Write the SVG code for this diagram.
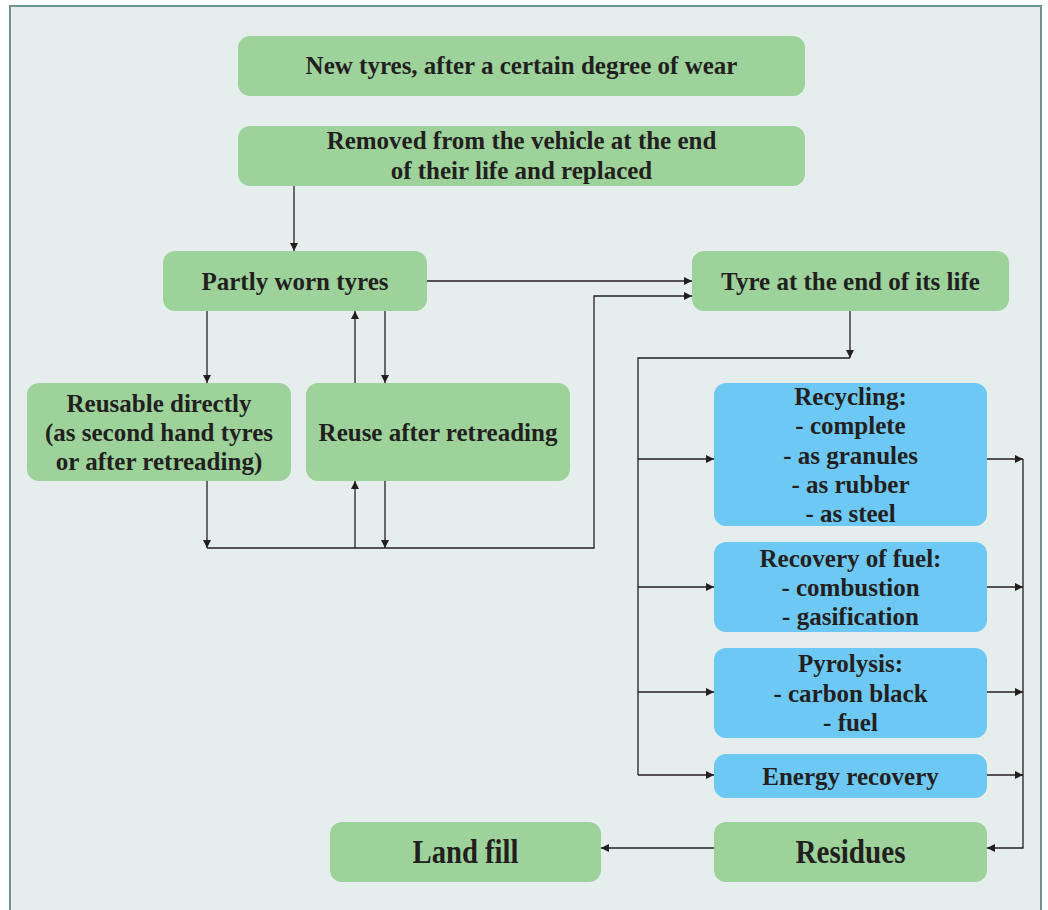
<svg xmlns="http://www.w3.org/2000/svg" width="1048" height="910" viewBox="0 0 1048 910">
<defs>
<style>
.g{fill:#9dd39b}
.b{fill:#6dc9f3}
.t{font-family:"Liberation Serif","DejaVu Serif",serif;font-weight:bold;font-size:25px;fill:#231f20;text-anchor:middle}
.big{font-size:33px}
.c{fill:none;stroke:#231f20;stroke-width:1.3}
</style>
<marker id="a" viewBox="0 0 10 10" refX="10" refY="5" markerWidth="8" markerHeight="8" markerUnits="userSpaceOnUse" orient="auto"><path d="M0,0 L10,5 L0,10 z" fill="#231f20"/></marker>
</defs>
<rect x="0" y="0" width="1048" height="910" fill="#ffffff"/>
<rect x="10" y="6" width="1031" height="910" fill="#e5eeed" stroke="#6e9090" stroke-width="2"/>

<g id="n1"><rect class="g" x="238" y="36" width="567" height="60" rx="12"/><text class="t" x="521.5" y="74">New tyres, after a certain degree of wear</text></g>
<g id="n2"><rect class="g" x="238" y="126" width="567" height="60" rx="12"/><text class="t" x="521.5" y="149">Removed from the vehicle at the end</text><text class="t" x="521.5" y="179">of their life and replaced</text></g>
<g id="n3"><rect class="g" x="163" y="251" width="264" height="60" rx="12"/><text class="t" x="295" y="290">Partly worn tyres</text></g>
<g id="n4"><rect class="g" x="692" y="251" width="317" height="60" rx="12"/><text class="t" x="850.5" y="290">Tyre at the end of its life</text></g>
<g id="n5"><rect class="g" x="27" y="383" width="264" height="98" rx="12"/><text class="t" x="159" y="412">Reusable directly</text><text class="t" x="159" y="441">(as second hand tyres</text><text class="t" x="159" y="470">or after retreading)</text></g>
<g id="n6"><rect class="g" x="306" y="383" width="264" height="98" rx="12"/><text class="t" x="438" y="441">Reuse after retreading</text></g>
<g id="n7"><rect class="b" x="714" y="383" width="273" height="143" rx="12"/><text class="t" x="850.5" y="405">Recycling:</text><text class="t" x="850.5" y="434">- complete</text><text class="t" x="850.5" y="464">- as granules</text><text class="t" x="850.5" y="493">- as rubber</text><text class="t" x="850.5" y="522">- as steel</text></g>
<g id="n8"><rect class="b" x="714" y="542" width="273" height="90" rx="12"/><text class="t" x="850.5" y="567">Recovery of fuel:</text><text class="t" x="850.5" y="596">- combustion</text><text class="t" x="850.5" y="625">- gasification</text></g>
<g id="n9"><rect class="b" x="714" y="648" width="273" height="90" rx="12"/><text class="t" x="850.5" y="672">Pyrolysis:</text><text class="t" x="850.5" y="702">- carbon black</text><text class="t" x="850.5" y="731">- fuel</text></g>
<g id="n10"><rect class="b" x="714" y="754" width="273" height="44" rx="12"/><text class="t" x="850.5" y="785">Energy recovery</text></g>
<g id="n11"><rect class="g" x="714" y="822" width="273" height="60" rx="12"/><text class="t big" x="850.5" y="863" textLength="110" lengthAdjust="spacingAndGlyphs">Residues</text></g>
<g id="n12"><rect class="g" x="330" y="822" width="271" height="60" rx="12"/><text class="t big" x="465.5" y="863" textLength="106" lengthAdjust="spacingAndGlyphs">Land fill</text></g>

<g id="connectors">
<path class="c" d="M294,186 V251" marker-end="url(#a)"/>
<path class="c" d="M427,281 H692" marker-end="url(#a)"/>
<path class="c" d="M207,548 H594 V296 H692" marker-end="url(#a)"/>
<path class="c" d="M207,311 V383" marker-end="url(#a)"/>
<path class="c" d="M355,383 V311" marker-end="url(#a)"/>
<path class="c" d="M385,311 V383" marker-end="url(#a)"/>
<path class="c" d="M207,481 V548" marker-end="url(#a)"/>
<path class="c" d="M355,548 V481" marker-end="url(#a)"/>
<path class="c" d="M385,481 V548" marker-end="url(#a)"/>
<path class="c" d="M850,311 V358" marker-end="url(#a)"/>
<path class="c" d="M850,358 H638 V775"/>
<path class="c" d="M638,459 H714" marker-end="url(#a)"/>
<path class="c" d="M638,587 H714" marker-end="url(#a)"/>
<path class="c" d="M638,692 H714" marker-end="url(#a)"/>
<path class="c" d="M638,775 H714" marker-end="url(#a)"/>
<path class="c" d="M987,459 H1023" marker-end="url(#a)"/>
<path class="c" d="M987,587 H1023" marker-end="url(#a)"/>
<path class="c" d="M987,692 H1023" marker-end="url(#a)"/>
<path class="c" d="M987,775 H1023" marker-end="url(#a)"/>
<path class="c" d="M1023,459 V848 H987" marker-end="url(#a)"/>
<path class="c" d="M714,848 H601" marker-end="url(#a)"/>
</g>
</svg>
